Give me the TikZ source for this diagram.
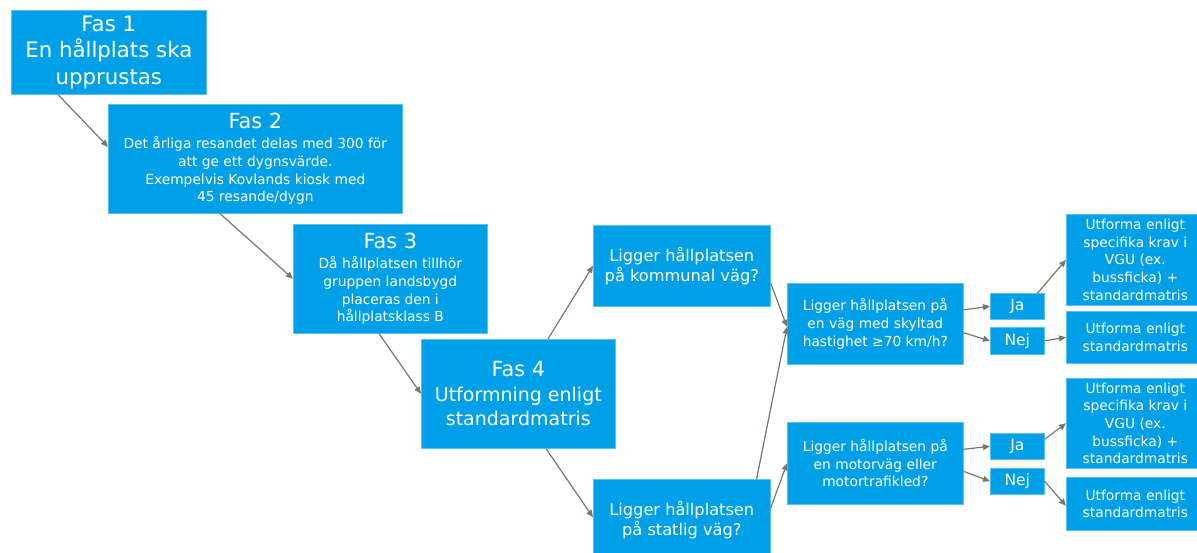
\documentclass[tikz,border=0pt]{standalone}
\usepackage{fontspec}
\setmainfont{DejaVu Sans}
\usetikzlibrary{arrows.meta,calc}
\definecolor{boxblue}{RGB}{0,160,233}
\definecolor{boxedge}{RGB}{90,190,240}
\definecolor{arrowgray}{RGB}{120,120,105}
\newcommand\fA{\fontsize{21.3}{26.7}\selectfont}
\newcommand\fT{\fontsize{20.8}{26}\selectfont}
\newcommand\fS{\fontsize{13.8}{17.7}\selectfont}
\newcommand\fJ{\fontsize{15.5}{18}\selectfont}
\newcommand\fM{\fontsize{19}{24}\selectfont}
\newcommand\fK{\fontsize{16.2}{20}\selectfont}
\tikzset{
  blk/.style={fill=boxblue, draw=boxedge, line width=0.6pt, text=white,
    inner sep=0pt, align=center, anchor=north west},
  conn/.style={draw=arrowgray, line width=1.2pt,
    -{Triangle[length=7pt,width=6pt]}}
}
\begin{document}
\begin{tikzpicture}[x=1pt,y=-1pt]
\useasboundingbox (0,0) rectangle (1197,553);
\clip (0,0) rectangle (1197,553);
\fill[white] (0,0) rectangle (1197,553);
% boxes
\node[blk, minimum width=195pt, minimum height=84pt, font=\fA] (f1) at (11,10)
  {Fas 1\\En hållplats ska\\upprustas};
\node[blk, minimum width=294pt, minimum height=109pt, font=\fS] (f2) at (108,104)
  {{\fT Fas 2}\\[2.5pt]Det årliga resandet delas med 300 för\\att ge ett dygnsvärde.\\Exempelvis Kovlands kiosk med\\45 resande/dygn};
\node[blk, minimum width=194pt, minimum height=109pt, font=\fS] (f3) at (293,224)
  {{\fT Fas 3}\\[2.5pt]Då hållplatsen tillhör\\gruppen landsbygd\\placeras den i\\hållplatsklass B};
\node[blk, minimum width=194pt, minimum height=109pt, font=\fM] (f4) at (421,339)
  {{\fT Fas 4}\\[1pt]Utformning enligt\\standardmatris};
\node[blk, minimum width=177pt, minimum height=81pt, font=\fK] (kom) at (593,225)
  {Ligger hållplatsen\\på kommunal väg?};
\node[blk, minimum width=177pt, minimum height=82pt, font=\fK] (sta) at (593,479)
  {Ligger hållplatsen\\på statlig väg?};
\node[blk, minimum width=176pt, minimum height=81pt, font=\fS] (q1) at (787,283)
  {Ligger hållplatsen på\\en väg med skyltad\\hastighet ≥70 km/h?};
\node[blk, minimum width=176pt, minimum height=82pt, font=\fS] (q2) at (787,422)
  {Ligger hållplatsen på\\en motorväg eller\\motortrafikled?};
\node[blk, minimum width=54pt, minimum height=26pt, font=\fJ] (ja1) at (990,293) {Ja};
\node[blk, minimum width=54pt, minimum height=27pt, font=\fJ] (nej1) at (990,327) {Nej};
\node[blk, minimum width=54pt, minimum height=26pt, font=\fJ] (ja2) at (990,433) {Ja};
\node[blk, minimum width=54pt, minimum height=26pt, font=\fJ] (nej2) at (990,468) {Nej};
\node[blk, minimum width=138pt, minimum height=91pt, font=\fS] (o1a) at (1066,214)
  {Utforma enligt\\specifika krav i\\VGU (ex.\\bussficka) +\\standardmatris};
\node[blk, minimum width=138pt, minimum height=52pt, font=\fS] (o1b) at (1066,311)
  {Utforma enligt\\standardmatris};
\node[blk, minimum width=138pt, minimum height=90pt, font=\fS] (o2a) at (1066,378)
  {Utforma enligt\\specifika krav i\\VGU (ex.\\bussficka) +\\standardmatris};
\node[blk, minimum width=138pt, minimum height=53pt, font=\fS] (o2b) at (1066,477)
  {Utforma enligt\\standardmatris};
% connectors
\draw[conn] ([xshift=47pt]f1.south west) -- ([yshift=12pt]f2.west);
\draw[conn] ([xshift=112pt]f2.south west) -- (f3.west);
\draw[conn] ([xshift=86pt]f3.south west) -- (f4.west);
\draw[conn] ([xshift=127pt]f4.north west) -- (kom.west);
\draw[conn] ([xshift=125pt]f4.south west) -- ([yshift=3pt]sta.west);
\draw[conn] ([yshift=-17pt]kom.east) -- ([yshift=-3pt]q1.west);
\draw[conn] ([xshift=-14pt]sta.north east) -- ([yshift=-3pt]q1.west);
\draw[conn] ([yshift=12pt]sta.east) -- (q2.west);
\draw[conn] ([yshift=14pt]q1.east) -- (ja1.west);
\draw[conn] ([yshift=-9pt]q1.east) -- (nej1.west);
\draw[conn] ([xshift=-7pt]ja1.north east) -- (o1a.west);
\draw[conn] (nej1.east) -- (o1b.west);
\draw[conn] ([yshift=14pt]q2.east) -- (ja2.west);
\draw[conn] ([yshift=-8pt]q2.east) -- (nej2.west);
\draw[conn] ([yshift=7pt]ja2.east) -- (o2a.west);
\draw[conn] (nej2.east) -- ([yshift=-2pt]o2b.west);
\end{tikzpicture}
\end{document}
